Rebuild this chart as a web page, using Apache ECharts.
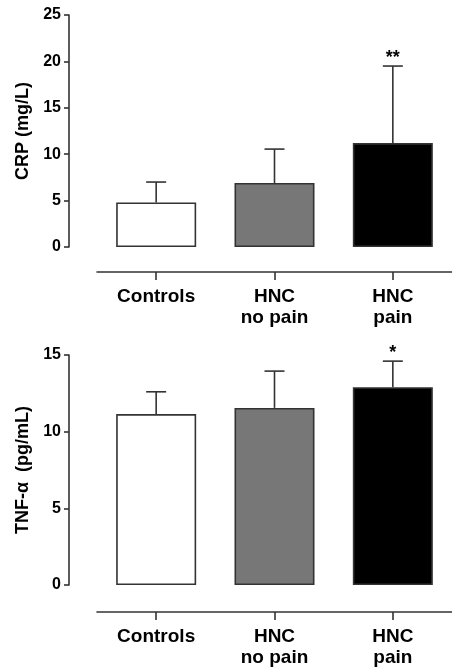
<!DOCTYPE html>
<html>
<head>
<meta charset="utf-8">
<script src="https://cdn.jsdelivr.net/npm/echarts@6/dist/echarts.min.js"></script>
<style>
html,body{margin:0;padding:0;background:#fff;}
#chart{width:452px;height:669px;}
</style>
</head>
<body>
<div id="chart"></div>
<script>
var categories = ['Controls', 'HNC\nno pain', 'HNC\npain'];
var crpMean = [4.8, 6.9, 11.2];
var crpUpper = [7.0, 10.55, 19.5];
var crpSig = ['', '', '**'];
var tnfMean = [11.15, 11.55, 12.9];
var tnfUpper = [12.6, 13.95, 14.6];
var tnfSig = ['', '', '*'];
var barFills = ['#ffffff', '#777777', '#000000'];
var crpAxis = {min: 0, max: 25, interval: 5, name: 'CRP (mg/L)'};
var tnfAxis = {min: 0, max: 15, interval: 5, name: 'TNF-\u03b1  (pg/mL)'};

var FONT = '"Liberation Sans", Arial, sans-serif';
var AX = '#333333';

function errData(mean, upper, sig) {
  return mean.map(function (m, i) { return [i, m, upper[i], sig[i]]; });
}
var categoriesSig = {1: crpSig, 3: tnfSig};

function renderErr(params, api) {
  var i = api.value(0);
  var top = api.coord([i, api.value(1)]);
  var up = api.coord([i, api.value(2)]);
  var sig = categoriesSig[params.seriesIndex][params.dataIndex];
  var half = 10;
  var children = [
    {type: 'line', shape: {x1: top[0], y1: top[1], x2: up[0], y2: up[1]}, style: {stroke: AX, lineWidth: 1.6}},
    {type: 'line', shape: {x1: up[0] - half, y1: up[1], x2: up[0] + half, y2: up[1]}, style: {stroke: AX, lineWidth: 1.6}}
  ];
  if (sig) {
    children.push({type: 'text', style: {text: sig, x: up[0], y: up[1] - 8, align: 'center', verticalAlign: 'middle', fill: '#000', font: 'bold 18px ' + FONT}});
  }
  return {type: 'group', children: children};
}

function xAxisCfg(gi, off) {
  return {
    type: 'category', gridIndex: gi, data: categories, offset: off,
    axisLine: {show: true, onZero: false, lineStyle: {color: AX, width: 1.6}},
    axisTick: {show: true, alignWithLabel: true, length: 8, lineStyle: {color: AX, width: 1.6}},
    axisLabel: {color: '#000', fontWeight: 'bold', fontSize: 19, fontFamily: FONT, margin: 14, lineHeight: 21}
  };
}
function yAxisCfg(gi, a) {
  return {
    type: 'value', gridIndex: gi, min: a.min, max: a.max, interval: a.interval, offset: 28,
    name: a.name, nameLocation: 'middle', nameGap: 37, nameRotate: 90,
    nameTextStyle: {color: '#000', fontWeight: 'bold', fontSize: 18, fontFamily: FONT},
    splitLine: {show: false},
    axisLine: {show: true, onZero: false, lineStyle: {color: AX, width: 1.6}},
    axisTick: {show: true, length: 5, lineStyle: {color: AX, width: 1.6}},
    axisLabel: {color: '#000', fontWeight: 'bold', fontSize: 16, fontFamily: FONT, margin: 8}
  };
}
function barSeries(gi, vals) {
  return {
    type: 'bar', xAxisIndex: gi, yAxisIndex: gi, barWidth: 80,
    data: vals.map(function (v, i) {
      return {value: v, itemStyle: {color: barFills[i], borderColor: AX, borderWidth: 1.6}};
    }),
    silent: true, animation: false
  };
}
function errSeries(gi, mean, upper, sig) {
  return {
    type: 'custom', xAxisIndex: gi, yAxisIndex: gi,
    data: errData(mean, upper, sig), encode: {x: 0, y: [1, 2]},
    renderItem: renderErr, silent: true, animation: false, z: 1
  };
}

var chart = echarts.init(document.getElementById('chart'), null, {renderer: 'canvas'});
chart.setOption({
  backgroundColor: '#fff',
  animation: false,
  grid: [
    {left: 97, top: 15, width: 358, height: 232},
    {left: 97, top: 355, width: 358, height: 230}
  ],
  xAxis: [xAxisCfg(0, 25), xAxisCfg(1, 27)],
  yAxis: [yAxisCfg(0, crpAxis), yAxisCfg(1, tnfAxis)],
  series: [
    barSeries(0, crpMean),
    errSeries(0, crpMean, crpUpper, crpSig),
    barSeries(1, tnfMean),
    errSeries(1, tnfMean, tnfUpper, tnfSig)
  ]
});
</script>
</body>
</html>
